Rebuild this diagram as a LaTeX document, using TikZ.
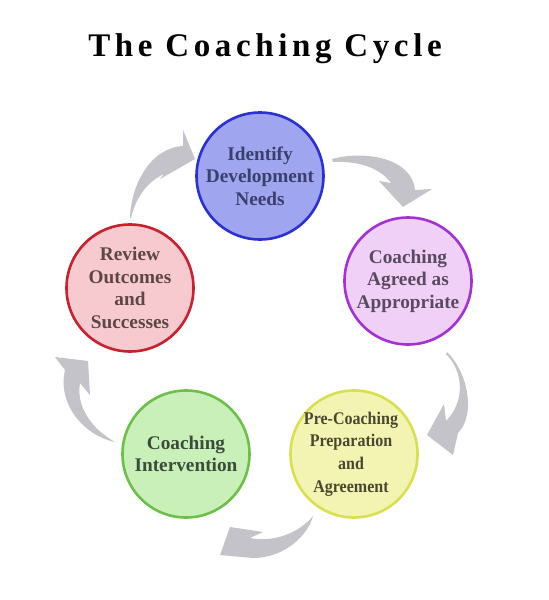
\documentclass[tikz,border=0pt]{standalone}
\usepackage{fontspec}
\setmainfont{Liberation Serif}
\newfontfamily\titlefont[LetterSpace=14]{Liberation Serif}
\newfontfamily\condfont[FakeStretch=0.9]{Liberation Serif}
\definecolor{arrowgray}{HTML}{C3C3C9}
\definecolor{bluefill}{HTML}{A0A5F0}
\definecolor{blueline}{HTML}{2A30D2}
\definecolor{bluetext}{HTML}{3A3F6C}
\definecolor{purpfill}{HTML}{F0D0F6}
\definecolor{purpline}{HTML}{A232D4}
\definecolor{purptext}{HTML}{5A4A60}
\definecolor{yelfill}{HTML}{F4F4B2}
\definecolor{yelline}{HTML}{D8E050}
\definecolor{yeltext}{HTML}{484830}
\definecolor{grnfill}{HTML}{CAF0BA}
\definecolor{grnline}{HTML}{6CC04A}
\definecolor{grntext}{HTML}{3C4C3C}
\definecolor{redfill}{HTML}{F6CACE}
\definecolor{redline}{HTML}{C8202C}
\definecolor{redtext}{HTML}{5C4646}
\tikzset{
  stage/.style={circle, line width=2.6pt, inner sep=0pt, minimum size=127pt},
  stagetext/.style={align=center, inner sep=0pt,
    font=\bfseries\fontsize{19.3}{22.5}\selectfont},
  smalltext/.style={stagetext, font=\condfont\bfseries\fontsize{17.8}{22.7}\selectfont},
  swoosh/.style={fill=arrowgray, draw=none}
}
\begin{document}
\begin{tikzpicture}[x=1pt,y=-1pt]
\useasboundingbox (0,0) rectangle (549,600);
\fill[white] (0,0) rectangle (549,600);

\node[font=\titlefont\bfseries\fontsize{33}{36}\selectfont, anchor=base] (title) at (265,56) {The Coaching Cycle};

% arrows
\fill[swoosh] (130,218) .. controls (131,185) and (150,148) .. (183,146)
  -- (183,130) -- (195,159) -- (160,179) -- (164,174)
  .. controls (146,182) and (135,200) .. (131,218) -- cycle;
\fill[swoosh] (332,159) .. controls (365,150) and (412,158) .. (415,190)
  -- (432,189) -- (403,207) -- (379,181) -- (391,183)
  .. controls (380,168) and (360,161) .. (333,162) -- cycle;
\fill[swoosh] (447,352) .. controls (468,372) and (476,415) .. (458,433)
  -- (453,455) -- (427,435) -- (444,404) -- (446,421)
  .. controls (465,402) and (464,372) .. (446,354) -- cycle;
\fill[swoosh] (250,538) .. controls (275,543) and (300,532) .. (313,516)
  .. controls (308,535) and (285,558) .. (253,558)
  -- (220,555) -- (230,527) -- (263,532) -- cycle;
\fill[swoosh] (88,361) -- (90,395) -- (80,383)
  .. controls (76,405) and (90,428) .. (115,442)
  .. controls (85,436) and (57,405) .. (65,370) -- (55,357) -- cycle;

% stages
\node[stage, fill=bluefill, draw=blueline] (identify) at (260,176) {};
\node[stagetext, text=bluetext] (identifyT) at (identify) {Identify\\Development\\Needs};
\node[stage, fill=purpfill, draw=purpline] (agreed) at (408,281) {};
\node[stagetext, text=purptext] (agreedT) at (agreed) {Coaching\\Agreed as\\Appropriate};
\node[stage, fill=yelfill, draw=yelline] (pre) at (354,454) {};
\node[smalltext, text=yeltext] (preT) at (351,454) {Pre-Coaching\\Preparation\\and\\Agreement};
\node[stage, fill=grnfill, draw=grnline] (interv) at (186,454) {};
\node[stagetext, text=grntext] (intervT) at (interv) {Coaching\\Intervention};
\node[stage, fill=redfill, draw=redline] (review) at (130,288) {};
\node[stagetext, text=redtext] (reviewT) at (review) {Review\\Outcomes\\and\\Successes};
\end{tikzpicture}
\end{document}
